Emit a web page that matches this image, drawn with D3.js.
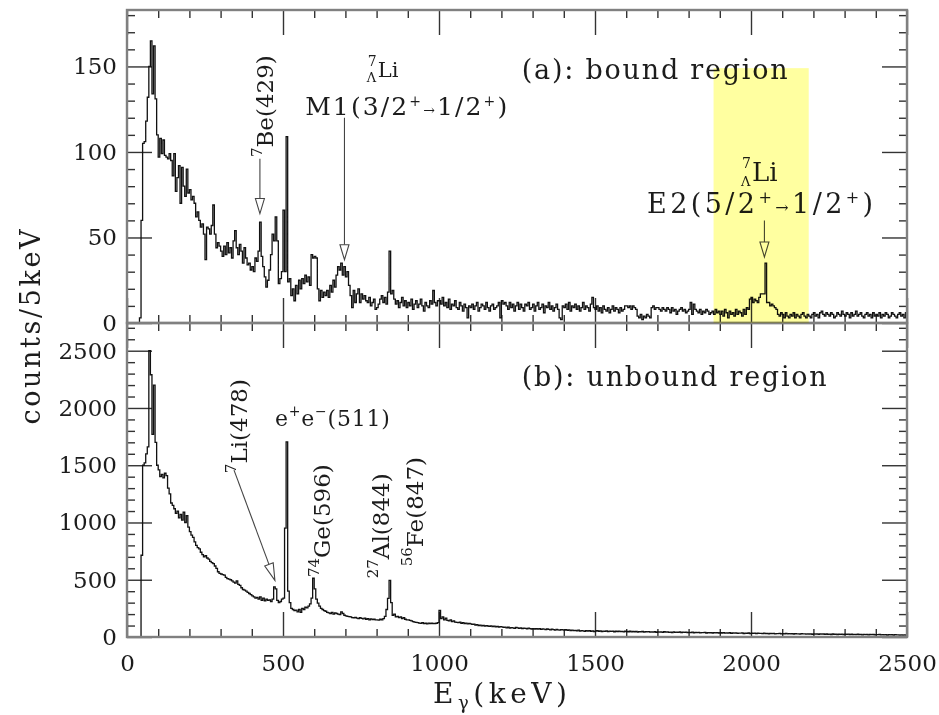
<!DOCTYPE html>
<html lang="en">
<head>
<meta charset="UTF-8">
<script src="https://cdn.jsdelivr.net/npm/d3@7"></script>
<title>gamma spectra, bound and unbound region</title>
<style>
  body { margin: 0; background: #fff; }
  text { font-family: "DejaVu Serif", serif; fill: #1c1c1c; }
</style>
</head>
<body>
<div id="chart"></div>
<script>
// counts per 5 keV bin, bin i covers [5i, 5i+5) keV
const binWidth = 5;

const boundCounts = [
  0,0,0,0,0,0,0,0,3,60,105,106,118,132,150,165,134,162,131,110,
  97,108,99,107,98,97,96,99,95,86,99,77,85,92,70,91,80,74,90,76,
  78,72,74,70,62,65,60,56,58,52,37,56,55,52,57,69,52,44,47,45,
  42,39,45,40,47,41,44,38,48,54,44,40,46,42,35,44,38,34,35,31,
  33,30,38,36,42,59,39,33,27,21,25,31,40,52,48,62,48,23,26,30,
  66,30,109,24,26,16,20,13,22,17,25,20,26,23,28,24,27,22,40,38,
  39,38,20,13,19,15,18,16,19,15,22,18,25,21,28,33,31,35,28,33,
  27,30,22,16,9,19,12,17,20,12,17,14,16,13,12,15,10,12,14,8,
  9,11,14,16,12,15,11,18,42,17,19,14,11,13,9,12,15,10,13,9,
  12,10,14,8,11,13,9,11,14,10,7,12,10,9,13,11,19,12,10,13,
  13,11,15,10,12,9,14,8,11,10,13,9,8,12,10,7,11,9,3,10,
  9,11,8,10,12,7,9,11,10,8,12,9,7,10,11,8,9,10,12,3,
  13,11,12,10,8,12,9,11,7,10,12,8,11,9,7,11,10,12,8,9,
  11,7,10,12,8,9,11,6,10,9,12,8,10,7,9,11,8,3,2,10,
  9,11,8,12,7,10,9,11,8,10,7,9,12,8,10,9,7,11,15,9,
  8,10,7,9,6,10,8,7,9,6,8,10,7,9,8,6,9,7,8,10,
  10,9,10,8,10,9,8,4,3,5,2,4,3,5,4,3,9,10,8,9,
  9,8,7,9,8,7,9,8,6,9,7,8,5,7,8,9,7,8,6,7,
  8,12,5,11,8,7,6,8,5,7,6,8,7,5,6,7,5,8,6,7,
  5,7,4,8,6,3,7,5,6,4,8,5,7,6,4,8,5,9,8,14,
  15,12,14,13,12,15,17,17,17,35,12,12,10,11,10,9,8,5,4,6,
  5,3,6,4,3,5,4,6,3,5,4,3,5,6,4,3,5,4,3,5,
  6,4,5,3,6,7,5,4,6,5,4,6,5,3,4,6,5,4,7,5,
  4,6,5,3,6,4,5,7,4,5,6,4,3,5,6,4,5,3,6,4,
  5,4,6,3,5,4,6,5,3,4,6,5,4,3,5,6,4,5,3,6
];

const unboundCounts = [
  0,0,0,0,0,0,0,0,0,714,1500,1520,1600,1660,2500,2290,1770,2200,1700,1500,
  1460,1400,1420,1390,1430,1410,1300,1250,1170,1150,1120,1080,1100,1040,1070,1020,1090,1000,1060,960,
  920,890,870,830,800,780,770,740,720,700,710,690,680,660,650,640,620,600,570,555,
  550,545,540,520,510,505,500,490,480,470,490,460,450,430,415,410,400,390,380,370,
  360,350,340,345,330,350,320,340,315,330,320,325,310,330,437,420,320,300,310,330,
  340,950,1704,400,300,250,240,230,235,220,240,215,250,240,260,255,270,290,340,513,
  420,330,295,270,250,240,230,225,215,210,205,215,200,210,205,200,195,219,205,190,
  185,180,178,175,170,168,172,165,160,170,162,158,165,155,160,150,158,152,155,150,
  150,148,155,150,160,180,240,338,495,300,190,200,175,180,170,175,160,170,155,150,
  150,145,140,135,130,128,125,122,120,125,118,120,115,122,118,120,116,118,120,125,
  233,160,175,150,165,145,140,150,135,140,130,128,125,130,120,125,118,122,115,118,
  115,110,112,105,108,100,104,98,102,95,100,96,92,98,90,95,88,92,86,90,
  88,84,86,80,85,78,82,80,76,83,79,75,80,74,78,76,72,77,74,70,
  74,70,72,68,73,66,70,68,64,70,66,62,68,65,60,66,63,60,64,62,
  60,64,58,62,56,60,55,58,54,60,52,56,54,50,56,52,55,50,53,48,
  52,55,50,54,48,52,50,53,47,51,49,52,46,50,48,51,47,49,45,50,
  48,46,50,44,48,46,49,43,47,45,48,42,46,44,47,42,45,43,46,41,
  45,43,44,40,46,42,44,41,43,39,45,41,42,40,44,38,42,40,43,39,
  41,38,42,37,40,39,41,36,39,38,40,35,39,37,38,35,38,36,39,34,
  37,35,38,33,36,34,37,32,35,33,36,31,34,33,35,30,34,32,35,30,
  33,31,34,30,33,31,32,29,33,30,31,28,32,30,31,28,30,29,31,27,
  30,28,31,27,29,28,30,26,29,27,28,25,29,27,28,25,27,26,28,24,
  27,25,28,24,27,25,26,23,26,24,25,22,26,24,25,22,24,23,25,21,
  24,23,25,21,24,22,23,20,24,22,23,19,23,21,22,19,22,20,22,18,
  21,20,22,18,21,19,20,17,21,19,20,17,20,18,19,16,19,17,19,16
];

const energyTicks = [0, 500, 1000, 1500, 2000, 2500];
const boundTicks = [0, 50, 100, 150];
const unboundTicks = [0, 500, 1000, 1500, 2000, 2500];

// E2 window (keV) and its height in counts
const e2Window = [1880, 2185];
const e2WindowTop = 149;

const W = 939, H = 715;
const left = 127, right = 907;

const svg = d3.select("#chart").append("svg")
    .attr("width", W)
    .attr("height", H);

const x = d3.scaleLinear().domain([0, 2500]).range([left, right]);

const yTop = d3.scaleLinear().domain([0, 183]).range([323, 10]);
const yBot = d3.scaleLinear().domain([0, 2742]).range([637, 323]);

const panels = [
  {name: "a", y: yTop, counts: boundCounts, major: 50, minor: 10, labels: boundTicks},
  {name: "b", y: yBot, counts: unboundCounts, major: 500, minor: 100, labels: unboundTicks}
];

function steps(counts) {
  const pts = counts.map((c, i) => [i * binWidth, c]);
  pts.push([counts.length * binWidth, counts[counts.length - 1]]);
  return pts;
}

//ticks and labels
function drawAxes(p) {
  const y0 = p.y.range()[0], y1 = p.y.range()[1];
  const ymax = p.y.domain()[1];
  const xMinor = d3.range(0, 2501, 100).filter(v => v % 500 != 0);
  const yMinor = d3.range(0, ymax, p.minor).filter(v => v % p.major != 0);
  const yMajor = d3.range(0, ymax, p.major);

  const g = svg.append("g").attr("color", "#333");

  // bottom
  g.append("g").attr("transform", "translate(0," + y0 + ")")
    .call(d3.axisBottom(x).tickValues(xMinor).tickSize(-8).tickFormat(""));
  g.append("g").attr("transform", "translate(0," + y0 + ")")
    .call(d3.axisBottom(x).tickValues(energyTicks).tickSize(-25).tickPadding(18)
      .tickFormat(p.name == "b" ? d3.format("d") : ""));
  // top
  g.append("g").attr("transform", "translate(0," + y1 + ")")
    .call(d3.axisTop(x).tickValues(xMinor).tickSize(-8).tickFormat(""));
  g.append("g").attr("transform", "translate(0," + y1 + ")")
    .call(d3.axisTop(x).tickValues(energyTicks).tickSize(-25).tickFormat(""));
  // left
  g.append("g").attr("transform", "translate(" + left + ",0)")
    .call(d3.axisLeft(p.y).tickValues(yMinor).tickSize(-8).tickFormat(""));
  g.append("g").attr("transform", "translate(" + left + ",0)")
    .call(d3.axisLeft(p.y).tickValues(yMajor).tickSize(-25).tickPadding(10)
      .tickFormat(v => p.labels.includes(v) ? v : ""));
  // right
  g.append("g").attr("transform", "translate(" + right + ",0)")
    .call(d3.axisRight(p.y).tickValues(yMinor).tickSize(-8).tickFormat(""));
  g.append("g").attr("transform", "translate(" + right + ",0)")
    .call(d3.axisRight(p.y).tickValues(yMajor).tickSize(-25).tickFormat(""));

  g.selectAll(".domain").remove();
  g.selectAll(".tick line").attr("stroke-width", 1.4);
  g.selectAll(".tick text")
    .attr("fill", "#1c1c1c")
    .attr("font-family", "DejaVu Serif")
    .attr("font-size", 23);
}

panels.forEach(p => {
  const y0 = p.y.range()[0], y1 = p.y.range()[1];
  svg.append("clipPath").attr("id", "clip-" + p.name)
    .append("rect").attr("x", left).attr("y", y1)
    .attr("width", right - left).attr("height", y0 - y1);

  drawAxes(p);

  const line = d3.line()
      .x(d => x(d[0]))
      .y(d => p.y(d[1]))
      .curve(d3.curveStepAfter);

  svg.append("path")
    .datum(steps(p.counts))
    .attr("clip-path", "url(#clip-" + p.name + ")")
    .attr("fill", "none")
    .attr("stroke", "#111")
    .attr("stroke-width", 1.3)
    .attr("d", line);
});

//annotations
function arrow(x1, y1, x2, y2, len) {
  const a = Math.atan2(y2 - y1, x2 - x1);
  const hw = 4.5;
  const bx = x2 - len * Math.cos(a), by = y2 - len * Math.sin(a);
  const px = -Math.sin(a) * hw, py = Math.cos(a) * hw;
  svg.append("line")
    .attr("x1", x1).attr("y1", y1).attr("x2", bx).attr("y2", by)
    .attr("stroke", "#444").attr("stroke-width", 1.1);
  svg.append("path")
    .attr("d", "M" + x2 + "," + y2 + "L" + (bx + px) + "," + (by + py) +
               "L" + (bx - px) + "," + (by - py) + "Z")
    .attr("fill", "#fff").attr("stroke", "#444").attr("stroke-width", 1.1);
}

function rotLabel(px, py, sup, main) {
  const t = svg.append("text")
    .attr("transform", "translate(" + px + "," + py + ") rotate(-90)")
    .attr("font-size", 23);
  t.append("tspan").attr("font-size", 15).attr("dy", -11).text(sup);
  t.append("tspan").attr("dy", 11).text(main);
}

function hyperLi(px, py, size) {
  svg.append("text").attr("x", px).attr("y", py).attr("font-size", size).text("Li");
  svg.append("text").attr("x", px - 10).attr("y", py - size * 0.5)
    .attr("font-size", 14).text("7");
  svg.append("text").attr("x", px - 11).attr("y", py + 5)
    .attr("font-size", 13).text("Λ");
}

// (a) bound region
svg.append("text").attr("x", x(1265)).attr("y", yTop(142.7))
  .attr("font-size", 27).attr("textLength", 266).attr("lengthAdjust", "spacing")
  .text("(a): bound region");

rotLabel(x(468), yTop(97), "7", "Be(429)");
arrow(x(426), yTop(96), x(426), yTop(64), 15);

hyperLi(x(804), yTop(143.9), 21);
const m1 = svg.append("text").attr("x", x(571)).attr("y", yTop(121.5))
  .attr("font-size", 25).attr("textLength", 202).attr("lengthAdjust", "spacing");
m1.append("tspan").text("M1(3/2");
m1.append("tspan").attr("font-size", 14).attr("dy", -9).text("+");
m1.append("tspan").attr("font-size", 14).attr("dy", 9).text("→");
m1.append("tspan").text("1/2");
m1.append("tspan").attr("font-size", 14).attr("dy", -9).text("+");
m1.append("tspan").attr("dy", 9).text(")");
arrow(x(697), yTop(120), x(697), yTop(37), 15);

hyperLi(x(2003), yTop(83), 26);
const e2 = svg.append("text").attr("x", x(1667)).attr("y", yTop(64.3))
  .attr("font-size", 27).attr("textLength", 226).attr("lengthAdjust", "spacing");
e2.append("tspan").text("E2(5/2");
e2.append("tspan").attr("font-size", 16).attr("dy", -10).text("+");
e2.append("tspan").attr("font-size", 16).attr("dy", 10).text("→");
e2.append("tspan").text("1/2");
e2.append("tspan").attr("font-size", 16).attr("dy", -10).text("+");
e2.append("tspan").attr("dy", 10).text(")");
arrow(x(2043), yTop(60), x(2043), yTop(38.6), 15);

// (b) unbound region
svg.append("text").attr("x", x(1265)).attr("y", yBot(2191))
  .attr("font-size", 27).attr("textLength", 305).attr("lengthAdjust", "spacing")
  .text("(b): unbound region");

rotLabel(x(385), yBot(1431), "7", "Li(478)");
arrow(x(343), yBot(1457), x(474), yBot(495), 17);

const ee = svg.append("text").attr("x", x(474)).attr("y", yBot(1840))
  .attr("font-size", 22).attr("textLength", 115).attr("lengthAdjust", "spacing");
ee.append("tspan").text("e");
ee.append("tspan").attr("font-size", 14).attr("dy", -10).text("+");
ee.append("tspan").attr("dy", 10).text("e");
ee.append("tspan").attr("font-size", 14).attr("dy", -10).text("−");
ee.append("tspan").attr("dy", 10).text("(511)");

rotLabel(x(651), yBot(523), "74", "Ge(596)");
rotLabel(x(840), yBot(513), "27", "Al(844)");
rotLabel(x(949), yBot(618), "56", "Fe(847)");

// frames
panels.forEach(p => {
  const y0 = p.y.range()[0], y1 = p.y.range()[1];
  svg.append("rect").attr("x", left).attr("y", y1)
    .attr("width", right - left).attr("height", y0 - y1)
    .attr("fill", "none").attr("stroke", "#808080").attr("stroke-width", 2.4);
});

// E2 window highlight
svg.append("rect")
  .attr("x", x(e2Window[0])).attr("y", yTop(e2WindowTop))
  .attr("width", x(e2Window[1]) - x(e2Window[0]))
  .attr("height", yTop(0) - yTop(e2WindowTop))
  .attr("fill", "#ffffa0")
  .style("mix-blend-mode", "multiply");

// axis titles
svg.append("text")
  .attr("transform", "translate(40,327) rotate(-90)")
  .attr("text-anchor", "middle").attr("font-size", 27)
  .attr("textLength", 195).attr("lengthAdjust", "spacing")
  .text("counts/5keV");

const xl = svg.append("text").attr("x", 433).attr("y", 703)
  .attr("font-size", 28).attr("textLength", 134).attr("lengthAdjust", "spacing");
xl.append("tspan").text("E");
xl.append("tspan").attr("font-size", 18).attr("dy", 6).text("γ");
xl.append("tspan").attr("dy", -6).text("(keV)");
</script>
</body>
</html>
